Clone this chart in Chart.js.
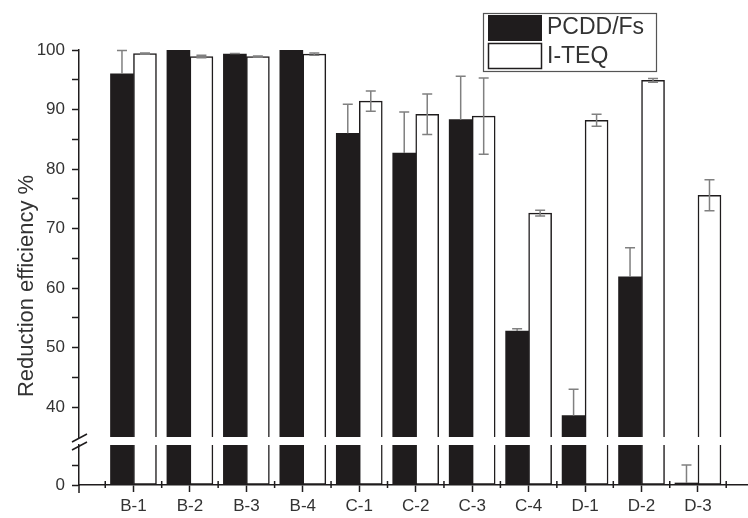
<!DOCTYPE html>
<html>
<head>
<meta charset="utf-8">
<script src="https://cdn.jsdelivr.net/npm/chart.js@4.4.1/dist/chart.umd.min.js"></script>
<style>
  html, body { margin: 0; padding: 0; background: #fff; }
  #wrap { width: 748px; height: 518px; }
</style>
</head>
<body>
<div id="wrap"><canvas id="c" width="748" height="518"></canvas></div>
<script>
// ---- data ----
const categories = ['B-1', 'B-2', 'B-3', 'B-4', 'C-1', 'C-2', 'C-3', 'C-4', 'D-1', 'D-2', 'D-3'];
const pcddValues = [96.0, 100.0, 99.3, 100.0, 86.0, 82.7, 88.3, 52.8, 38.6, 61.9, 0.5];
const pcddErrors = [3.9, 0.0, 0.1, 0.0, 4.9, 6.9, 7.3, 0.4, 4.4, 4.9, 4.5];
const iteqValues = [99.4, 98.9, 98.9, 99.3, 91.4, 89.2, 88.9, 72.6, 88.2, 94.9, 75.6];
const iteqErrors = [0.1, 0.2, 0.1, 0.2, 1.7, 3.4, 6.4, 0.5, 1.0, 0.3, 2.6];
const seriesNames = ['PCDD/Fs', 'I-TEQ'];
const upperTicks = [40, 50, 60, 70, 80, 90, 100];
const lowerTicks = [0];
const upperRange = [35, 100];
const lowerRange = [0, 10];

// ---- styling ----
const INK = '#1f1c1d';
const TEXT = '#333333';
const ERR = '#808080';
const FONT = "'Liberation Sans', Arial, sans-serif";

const upperData = vals => vals.map((v, i) => ({ x: i, y: v >= upperRange[0] ? v : null }));
const lowerData = vals => vals.map((v, i) => ({ x: i, y: Math.min(v, lowerRange[1]) }));

const errorBarPlugin = {
  id: 'errorBars',
  afterDatasetsDraw(chart) {
    const { ctx } = chart;
    const yTop = chart.scales.yTop, yBot = chart.scales.yBottom;
    const pix = v => (v >= upperRange[0] ? yTop.getPixelForValue(v) : yBot.getPixelForValue(v));
    const groups = [
      { lower: 2, vals: pcddValues, errs: pcddErrors, both: false },
      { lower: 3, vals: iteqValues, errs: iteqErrors, both: true }
    ];
    ctx.save();
    ctx.strokeStyle = ERR;
    ctx.lineWidth = 1.5;
    const cap = 5;
    groups.forEach(g => {
      const metaLow = chart.getDatasetMeta(g.lower);
      g.vals.forEach((v, i) => {
        const e = g.errs[i];
        if (!e) return;
        const x = metaLow.data[i].x;
        const yv = pix(v), yHi = pix(v + e), yLo = pix(v - e);
        ctx.beginPath();
        ctx.moveTo(x, g.both ? yLo : yv);
        ctx.lineTo(x, yHi);
        ctx.moveTo(x - cap, yHi); ctx.lineTo(x + cap, yHi);
        if (g.both) { ctx.moveTo(x - cap, yLo); ctx.lineTo(x + cap, yLo); }
        ctx.stroke();
      });
    });
    ctx.restore();
  }
};

const decorPlugin = {
  id: 'decor',
  afterDraw(chart) {
    const { ctx, chartArea } = chart;
    const xs = chart.scales.x;
    ctx.save();
    // minor x ticks and origin tick
    ctx.strokeStyle = INK;
    ctx.lineWidth = 1.5;
    ctx.beginPath();
    for (let k = -0.5; k <= xs.max; k += 1) {
      const px = xs.getPixelForValue(k);
      ctx.moveTo(px, chartArea.bottom - 4);
      ctx.lineTo(px, chartArea.bottom + 3);
    }
    ctx.moveTo(chartArea.left, chartArea.bottom);
    ctx.lineTo(chartArea.left, chartArea.bottom + 8);
    ctx.stroke();
    // axis break marks
    const yBrk = (chart.scales.yTop.bottom + chart.scales.yBottom.top) / 2;
    const ax = chartArea.left;
    ctx.beginPath();
    ctx.moveTo(ax - 7, yBrk + 9); ctx.lineTo(ax + 8, yBrk + 1);
    ctx.moveTo(ax - 7, yBrk + 1); ctx.lineTo(ax + 8, yBrk - 7);
    ctx.stroke();
    // y title
    ctx.fillStyle = TEXT;
    ctx.font = '22px ' + FONT;
    ctx.textAlign = 'center';
    ctx.textBaseline = 'alphabetic';
    ctx.translate(33, 286);
    ctx.rotate(-Math.PI / 2);
    ctx.fillText('Reduction efficiency %', 0, 0);
    ctx.restore();

    // legend
    ctx.save();
    ctx.fillStyle = '#fff';
    ctx.fillRect(484, 14, 172, 57);
    ctx.strokeStyle = '#555';
    ctx.lineWidth = 1.2;
    ctx.strokeRect(483.5, 13.5, 173, 58);
    ctx.fillStyle = INK;
    ctx.fillRect(488, 15, 54, 26);
    ctx.fillStyle = '#fff';
    ctx.fillRect(489, 44, 52, 24);
    ctx.strokeStyle = INK;
    ctx.lineWidth = 1.5;
    ctx.strokeRect(488.5, 43.5, 53, 25);
    ctx.fillStyle = TEXT;
    ctx.font = '23px ' + FONT;
    ctx.textAlign = 'left';
    ctx.textBaseline = 'middle';
    ctx.fillText(seriesNames[0], 547, 28);
    ctx.fillText(seriesNames[1], 547, 57);
    ctx.restore();
  }
};

const yCommon = (extra) => Object.assign({
  type: 'linear',
  position: 'left',
  stack: 'leftStack',
  stacked: false,
  afterFit: s => { s.width = 79; },
  border: { display: true, color: INK, width: 1.5 }
}, extra);

const yTicks = list => ({
  color: TEXT, font: { family: FONT, size: 17 }, padding: 7, stepSize: 5, autoSkip: false,
  callback: v => (list.includes(v) ? String(v) : '')
});

const yGrid = hidden => ({
  display: true, drawOnChartArea: false, drawTicks: true, tickLength: 7, tickWidth: 1.5,
  tickColor: c => (c.tick && c.tick.value === hidden ? 'rgba(0,0,0,0)' : INK)
});

const cfg = {
  type: 'bar',
  data: {
    datasets: [
      { label: seriesNames[0], data: upperData(pcddValues), yAxisID: 'yTop', xAxisID: 'x', stack: 'p',
        backgroundColor: INK, borderWidth: 0 },
      { label: seriesNames[1], data: upperData(iteqValues), yAxisID: 'yTop', xAxisID: 'x', stack: 'i',
        backgroundColor: '#ffffff', borderColor: INK, borderWidth: 1.5 },
      { label: seriesNames[0] + ' (low)', data: lowerData(pcddValues), yAxisID: 'yBottom', xAxisID: 'x', stack: 'p',
        backgroundColor: INK, borderWidth: 0 },
      { label: seriesNames[1] + ' (low)', data: lowerData(iteqValues), yAxisID: 'yBottom', xAxisID: 'x', stack: 'i',
        backgroundColor: '#ffffff', borderColor: INK, borderWidth: 1.5, borderSkipped: 'top' }
    ]
  },
  options: {
    responsive: false,
    animation: false,
    layout: { padding: { top: 50, left: 0, right: -4, bottom: 0 } },
    barThickness: 23,
    plugins: { legend: { display: false }, tooltip: { enabled: false } },
    scales: {
      x: {
        type: 'linear',
        position: 'bottom',
        offset: false,
        min: -0.965,
        max: 10.886,
        afterFit: s => { s.height = 33; },
        border: { display: true, color: INK, width: 1.5 },
        grid: {
          display: true, offset: false, drawOnChartArea: false, drawTicks: true, tickLength: 7, tickWidth: 1.5,
          tickColor: c => (c.tick && Number.isInteger(c.tick.value) ? INK : 'rgba(0,0,0,0)')
        },
        ticks: {
          stepSize: 0.5,
          includeBounds: false,
          autoSkip: false,
          maxRotation: 0,
          color: TEXT,
          font: { family: FONT, size: 17 },
          padding: 4,
          callback: v => (Number.isInteger(v) && v >= 0 && v < categories.length ? categories[v] : '')
        }
      },
      yBottom: yCommon({
        min: lowerRange[0], max: lowerRange[1], stackWeight: 40,
        grid: yGrid(lowerRange[1]),
        ticks: yTicks(lowerTicks)
      }),
      yGap: {
        type: 'linear', position: 'left', stack: 'leftStack', stackWeight: 8, min: 0, max: 1,
        afterFit: s => { s.width = 79; },
        border: { display: false }, grid: { display: false }, ticks: { display: false }
      },
      yTop: yCommon({
        min: upperRange[0], max: upperRange[1], stackWeight: 387,
        grid: yGrid(upperRange[0]),
        ticks: yTicks(upperTicks)
      })
    }
  },
  plugins: [errorBarPlugin, decorPlugin]
};

new Chart(document.getElementById('c'), cfg);
</script>
</body>
</html>
